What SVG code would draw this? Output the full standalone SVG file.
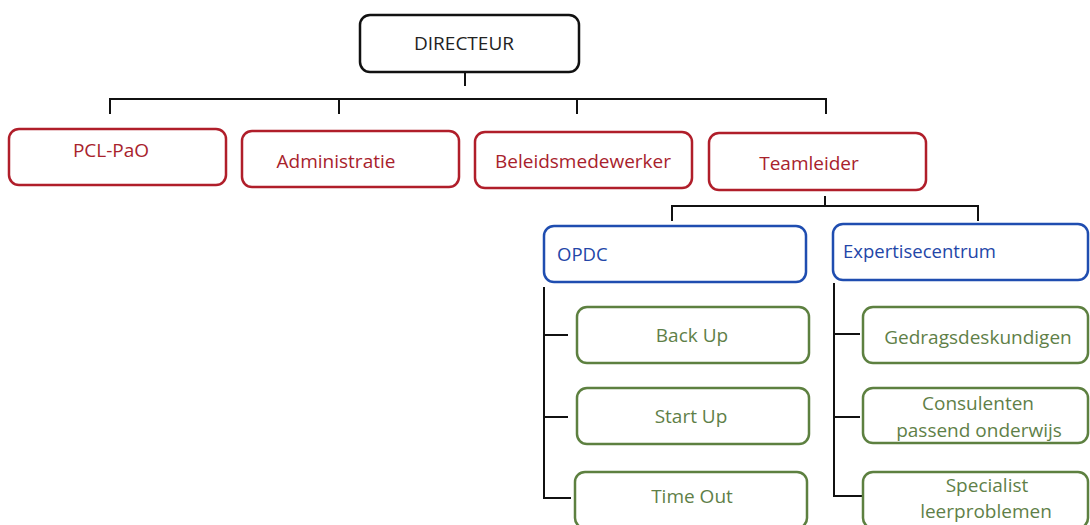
<svg xmlns="http://www.w3.org/2000/svg" width="1090" height="525" viewBox="0 0 1090 525">
<style>
rect{fill:#fff;stroke-width:2.5}
text{font-family:"Open Sans","Noto Sans","Liberation Sans",sans-serif;font-size:19px;text-anchor:middle}
.k rect{stroke:#111}
.k text{fill:#222}
.r rect{stroke:#B01E2A}
.r text{fill:#A8222C}
.b rect{stroke:#1F4DB0}
.b text{fill:#2346A8;text-anchor:start;font-size:18.5px}
.g rect{stroke:#5D8040}
.g text{fill:#5F7F48}
#connectors path{fill:none;stroke:#111;stroke-width:2}
</style>
<rect x="0" y="0" width="1090" height="525" fill="#fff" stroke="none"/>
<g id="connectors">
<path d="M465 72V86"/>
<path d="M110 114V99H826V114M339 99V114M577 99V114"/>
<path d="M825 196V206"/>
<path d="M672 221V206H978V221"/>
<path d="M544 287V498H571M544 335H568M544 417H568"/>
<path d="M834 283V496H862M834 334H860M834 417H860"/>
</g>
<g id="directeur" class="k"><rect x="360" y="15" width="219" height="57" rx="10"/><text x="464" y="50">DIRECTEUR</text></g>
<g id="pcl-pao" class="r"><rect x="9" y="129" width="217" height="56" rx="10"/><text x="111" y="157">PCL-PaO</text></g>
<g id="administratie" class="r"><rect x="242" y="131" width="217" height="56" rx="10"/><text x="336" y="168">Administratie</text></g>
<g id="beleidsmedewerker" class="r"><rect x="475" y="132" width="217" height="56" rx="10"/><text x="583" y="168">Beleidsmedewerker</text></g>
<g id="teamleider" class="r"><rect x="709" y="133" width="217" height="57" rx="10"/><text x="809" y="170">Teamleider</text></g>
<g id="opdc" class="b"><rect x="544" y="226" width="262" height="56" rx="10"/><text x="557" y="261">OPDC</text></g>
<g id="expertisecentrum" class="b"><rect x="833" y="224" width="255" height="56" rx="10"/><text x="843" y="258">Expertisecentrum</text></g>
<g id="back-up" class="g"><rect x="577" y="307" width="232" height="56" rx="10"/><text x="692" y="342">Back Up</text></g>
<g id="start-up" class="g"><rect x="577" y="388" width="232" height="56" rx="10"/><text x="691" y="423">Start Up</text></g>
<g id="time-out" class="g"><rect x="575" y="472" width="232" height="56" rx="10"/><text x="692" y="503">Time Out</text></g>
<g id="gedragsdeskundigen" class="g"><rect x="863" y="307" width="225" height="56" rx="10"/><text x="978" y="344">Gedragsdeskundigen</text></g>
<g id="consulenten" class="g"><rect x="863" y="388" width="225" height="55" rx="10"/><text x="978" y="410">Consulenten</text><text x="979" y="437">passend onderwijs</text></g>
<g id="specialist" class="g"><rect x="863" y="472" width="225" height="56" rx="10"/><text x="987" y="492">Specialist</text><text x="986" y="518">leerproblemen</text></g>
</svg>
